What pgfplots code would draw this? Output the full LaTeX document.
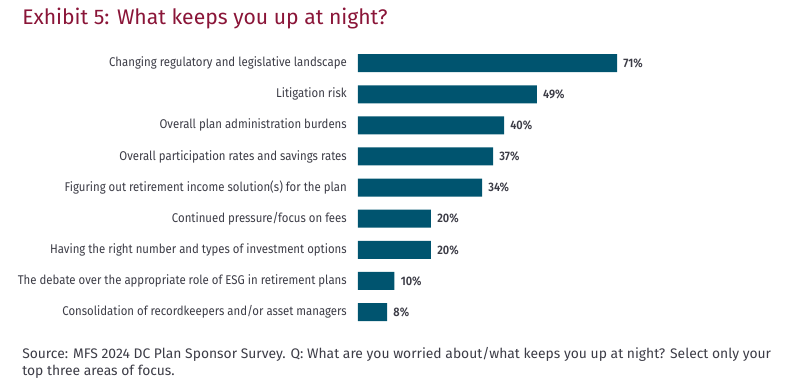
\documentclass[border=0pt]{standalone}
\usepackage{pgfplots}
\pgfplotsset{compat=1.18}
\usepackage{fontspec}
\setmainfont{Fira Sans}
\newfontfamily\labfont[FakeStretch=0.9]{Fira Sans}
\newfontfamily\labbold[FakeStretch=0.9]{Fira Sans SemiBold}
\newfontfamily\notefont{Fira Sans}
\definecolor{barblue}{HTML}{00546F}
\definecolor{titlered}{HTML}{8A1538}
\definecolor{labgray}{HTML}{3C3C46}
\begin{document}
\begin{tikzpicture}[x=0.75pt,y=0.75pt]
\useasboundingbox (0,0) rectangle (800,386);
\node[anchor=base west, inner sep=0pt, text=titlered, font=\fontsize{15.85}{18}\selectfont] at (22,361) {Exhibit 5: What keeps you up at night?};
\begin{axis}[
  at={(358*0.75pt,58.4*0.75pt)}, anchor=south west,
  scale only axis, width=273.75pt, height=210pt,
  xbar, bar width=13.5pt,
  xmin=0, xmax=100, ymin=-0.5, ymax=8.5, y dir=reverse,
  axis line style={draw=none}, xtick=\empty,
  ytick={0,...,8}, major tick length=0pt,
  yticklabels={Changing regulatory and legislative landscape,Litigation risk,Overall plan administration burdens,Overall participation rates and savings rates,Figuring out retirement income solution(s) for the plan,Continued pressure/focus on fees,Having the right number and types of investment options,The debate over the appropriate role of ESG in retirement plans,Consolidation of recordkeepers and/or asset managers},
  yticklabel style={anchor=east, inner sep=0pt, xshift=-8.25pt, text=labgray, font=\labfont\fontsize{9.5}{10}\selectfont},
  point meta=x,
  /pgf/number format/assume math mode=true,
  nodes near coords={\pgfmathprintnumber\pgfplotspointmeta\%},
  nodes near coords style={anchor=west, inner sep=0pt, xshift=4.5pt, text=labgray, font=\labbold\fontsize{9.2}{10}\selectfont},
  clip=false,
]
\addplot[draw=none, fill=barblue] coordinates {(71,0) (49,1) (40,2) (37,3) (34,4) (20,5) (20,6) (10,7) (8,8)};
\end{axis}
\node[anchor=base west, inner sep=0pt, text=labgray, font=\notefont\fontsize{10.4}{11}\selectfont] at (22,28) {Source: MFS 2024 DC Plan Sponsor Survey. Q: What are you worried about/what keeps you up at night? Select only your};
\node[anchor=base west, inner sep=0pt, text=labgray, font=\notefont\fontsize{10.4}{11}\selectfont] at (22,11) {top three areas of focus.};
\end{tikzpicture}
\end{document}
